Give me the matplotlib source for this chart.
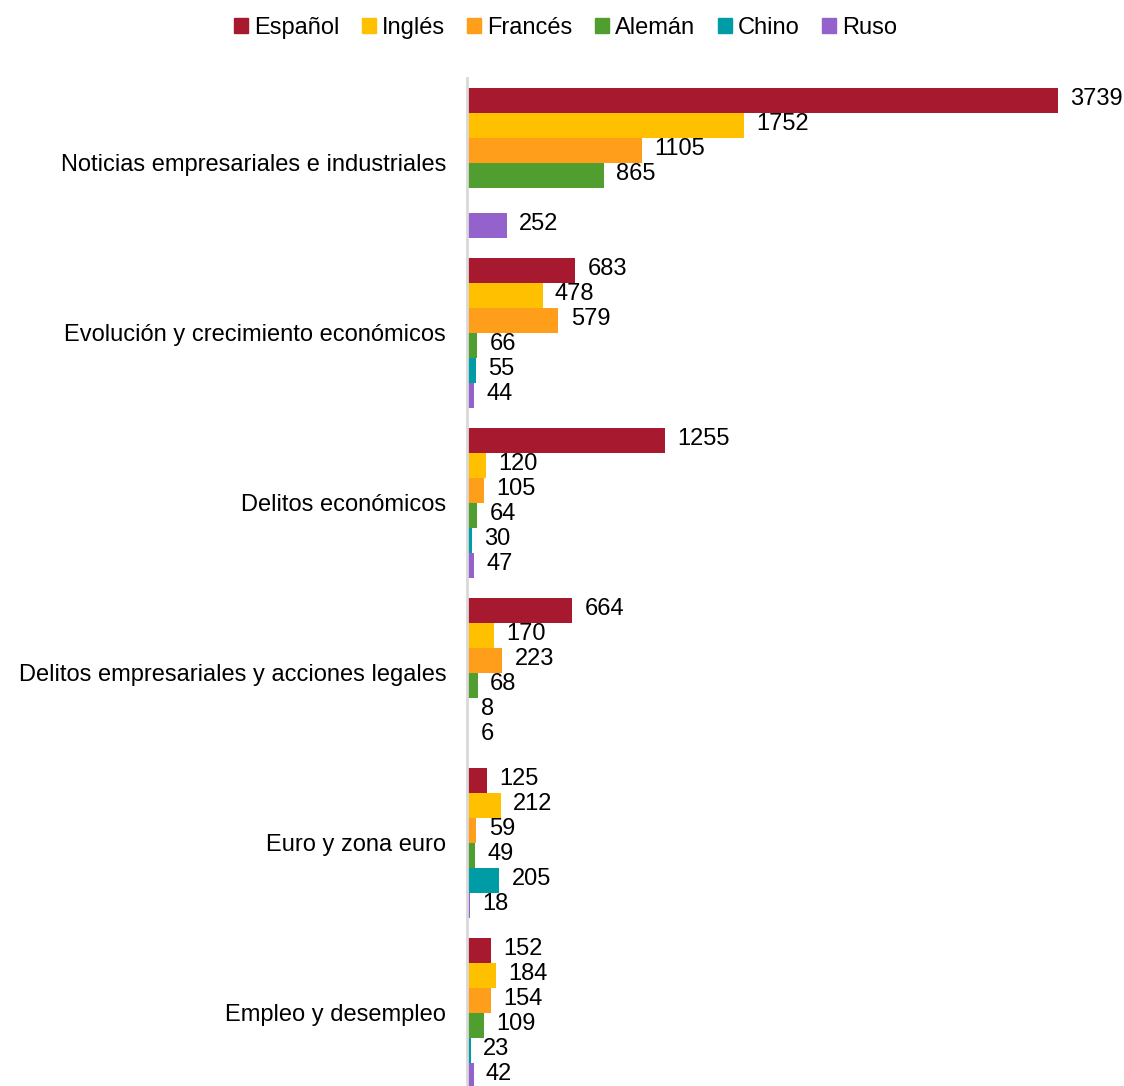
import numpy as np
import matplotlib.pyplot as plt
from matplotlib.patches import Patch

plt.rcParams['font.family'] = ['Liberation Sans', 'DejaVu Sans']

categorias = ['Noticias empresariales e industriales',
              'Evolución y crecimiento económicos',
              'Delitos económicos',
              'Delitos empresariales y acciones legales',
              'Euro y zona euro',
              'Empleo y desempleo']
idiomas = ['Español', 'Inglés', 'Francés', 'Alemán', 'Chino', 'Ruso']
colores = ['#A6192E', '#FFC000', '#FF9E1B', '#509E2F', '#009CA6', '#9362CD']

espanol = [3739, 683, 1255, 664, 125, 152]
ingles = [1752, 478, 120, 170, 212, 184]
frances = [1105, 579, 105, 223, 59, 154]
aleman = [865, 66, 64, 68, 49, 109]
chino = [None, 55, 30, 8, 205, 23]
ruso = [252, 44, 47, 6, 18, 42]
series = [espanol, ingles, frances, aleman, chino, ruso]

fs = 17

fig = plt.figure(figsize=(11.24, 10.86), dpi=100)
ax = fig.add_axes([467 / 1124, -12 / 1086, 640 / 1124, 1020 / 1086])

n = len(idiomas)
alto = 25 / 170
y0 = np.arange(len(categorias))

for i, (valores, color) in enumerate(zip(series, colores)):
    pos = y0 - (n / 2 - 0.5 - i) * alto
    for p, v in zip(pos, valores):
        if v is None:
            continue
        ax.barh(p, v, height=alto, color=color, linewidth=0)
        ax.text(v + 78, p - 0.01, str(v), va='center', ha='left', fontsize=fs)

ax.set_ylim(len(categorias) - 0.5, -0.5)
ax.set_xlim(0, 4050)
ax.set_yticks(y0)
ax.set_yticklabels(categorias, fontsize=fs)
ax.tick_params(axis='y', length=0, pad=15)
ax.set_xticks([])
for s in ['top', 'right', 'bottom']:
    ax.spines[s].set_visible(False)
ax.spines['left'].set_color('#D9D9D9')
ax.spines['left'].set_linewidth(2)

handles = [Patch(color=c, label=l) for c, l in zip(colores, idiomas)]
fig.legend(handles=handles, loc='center', bbox_to_anchor=(0.503, 1 - 28 / 1086),
           ncol=6, fontsize=fs, frameon=False, handlelength=0.6,
           handleheight=0.6, handletextpad=0.25, columnspacing=0.95)

fig.savefig('out.png', dpi=100)
